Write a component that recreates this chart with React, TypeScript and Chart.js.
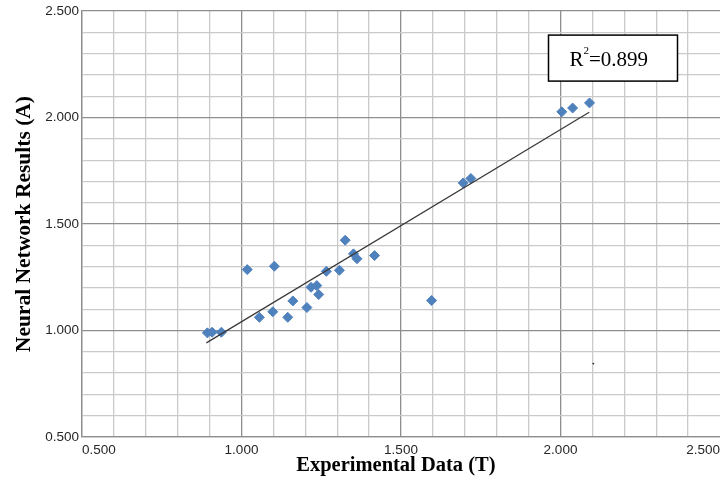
import React, { useEffect, useRef } from 'react';
import { Chart, registerables } from 'chart.js';

Chart.register(...registerables);

// Experimental (T) vs Neural network (A) values
const experimental = [0.893, 0.908, 0.937, 1.018, 1.103, 1.056, 1.098, 1.145, 1.161, 1.205, 1.218, 1.236, 1.242, 1.266, 1.307, 1.325, 1.351, 1.362, 1.417, 1.596, 1.695, 1.719, 2.004, 2.038, 2.091];
const neural = [0.989, 0.992, 0.992, 1.286, 1.302, 1.062, 1.088, 1.062, 1.139, 1.108, 1.203, 1.211, 1.169, 1.278, 1.283, 1.424, 1.360, 1.337, 1.352, 1.141, 1.693, 1.714, 2.027, 2.045, 2.069];

// Trend line end points
const trendX = [0.89, 2.09];
const trendY = [0.942, 2.025];

// Small stray dot visible in the picture
const strayX = [2.103];
const strayY = [0.845];

const axisMin = 0.5;
const axisMax = 2.5;
const minorStep = 0.1;
const majorStep = 0.5;
const rSquared = '0.899';
const xTitle = 'Experimental Data (T)  ';
const yTitle = 'Neural Network Results (A)';

const isMajor = (v: number) => Math.abs(v / majorStep - Math.round(v / majorStep)) < 1e-6;

const r2Plugin = {
  id: 'r2box',
  afterDraw(chart: any) {
    const ctx = chart.ctx as CanvasRenderingContext2D;
    const { left, top } = chart.chartArea;
    const bx = left + 466.5;
    const by = top + 24;
    const bw = 129;
    const bh = 46;
    ctx.save();
    ctx.fillStyle = '#ffffff';
    ctx.fillRect(bx, by, bw, bh);
    ctx.strokeStyle = '#000000';
    ctx.lineWidth = 1.5;
    ctx.strokeRect(bx, by, bw, bh);
    ctx.fillStyle = '#000000';
    ctx.textBaseline = 'alphabetic';
    ctx.textAlign = 'left';
    const base = by + 30.7;
    let x = bx + 21;
    ctx.font = '21px "Liberation Serif"';
    ctx.fillText('R', x, base);
    x += ctx.measureText('R').width;
    ctx.font = '11px "Liberation Serif"';
    ctx.fillText('2', x, base - 12);
    x += ctx.measureText('2').width;
    ctx.font = '21px "Liberation Serif"';
    ctx.fillText('=' + rSquared, x, base);
    ctx.restore();
  },
};

export default function App() {
  const ref = useRef<HTMLCanvasElement | null>(null);

  useEffect(() => {
    document.body.style.margin = '0';
    const canvas = ref.current;
    if (!canvas) return;
    const tickFont = { family: '"Liberation Sans"', size: 13.5 };
    const majorColor = '#8e8e8e';
    const minorColor = '#cacaca';
    const chart = new Chart(canvas, {
      type: 'scatter',
      data: {
        datasets: [
          {
            type: 'line',
            label: 'trend',
            data: trendX.map((x, i) => ({ x, y: trendY[i] })),
            borderColor: '#383838',
            borderWidth: 1.2,
            pointRadius: 0,
            fill: false,
          } as any,
          {
            label: 'points',
            data: experimental.map((x, i) => ({ x, y: neural[i] })),
            pointStyle: 'rectRot',
            pointRadius: 5,
            borderWidth: 1,
            backgroundColor: '#4f81bd',
            borderColor: '#4f81bd',
          },
          {
            label: 'stray',
            data: strayX.map((x, i) => ({ x, y: strayY[i] })),
            pointStyle: 'circle',
            pointRadius: 0.9,
            borderWidth: 0,
            backgroundColor: '#222222',
          },
        ],
      },
      options: {
        animation: false,
        responsive: false,
        layout: { padding: { top: 11, right: 0, bottom: 0, left: 0 } },
        plugins: { legend: { display: false }, tooltip: { enabled: false } },
        scales: {
          x: {
            type: 'linear',
            min: axisMin,
            max: axisMax,
            afterFit: (s: any) => {
              s.height = 42;
              s.paddingLeft = 0;
              s.paddingRight = 0;
            },
            ticks: {
              stepSize: minorStep,
              autoSkip: false,
              maxRotation: 0,
              align: 'inner',
              padding: 5,
              color: '#262626',
              font: tickFont,
              callback: (v: any) => (isMajor(Number(v)) ? Number(v).toFixed(3) : ''),
            },
            grid: {
              drawTicks: false,
              color: (c: any) =>
                Math.abs(c.tick.value - axisMax) < 1e-6
                  ? 'rgba(0,0,0,0)'
                  : isMajor(c.tick.value)
                  ? majorColor
                  : minorColor,
              lineWidth: 1.3,
            },
            border: { color: majorColor, width: 1.3 },
            title: {
              display: true,
              text: xTitle,
              color: '#000000',
              font: { family: '"Liberation Serif"', size: 20.5, weight: 'bold' },
              padding: { top: 0, bottom: 1 },
            },
          },
          y: {
            type: 'linear',
            min: axisMin,
            max: axisMax,
            afterFit: (s: any) => {
              s.width = 82;
            },
            ticks: {
              stepSize: minorStep,
              autoSkip: false,
              padding: 3,
              color: '#262626',
              font: tickFont,
              callback: (v: any) => (isMajor(Number(v)) ? Number(v).toFixed(3) : ''),
            },
            grid: {
              drawTicks: false,
              color: (c: any) => (isMajor(c.tick.value) ? majorColor : minorColor),
              lineWidth: 1.3,
            },
            border: { color: majorColor, width: 1.3 },
            title: {
              display: true,
              text: yTitle,
              color: '#000000',
              font: { family: '"Liberation Serif"', size: 21.5, weight: 'bold' },
              padding: { top: 12, bottom: 0 },
            },
          },
        },
      },
      plugins: [r2Plugin],
    });
    return () => chart.destroy();
  }, []);

  return (
    <div style={{ width: 720, height: 479, overflow: 'hidden', background: '#ffffff' }}>
      <canvas ref={ref} width={726} height={479} style={{ width: 726, height: 479, display: 'block' }} />
    </div>
  );
}
